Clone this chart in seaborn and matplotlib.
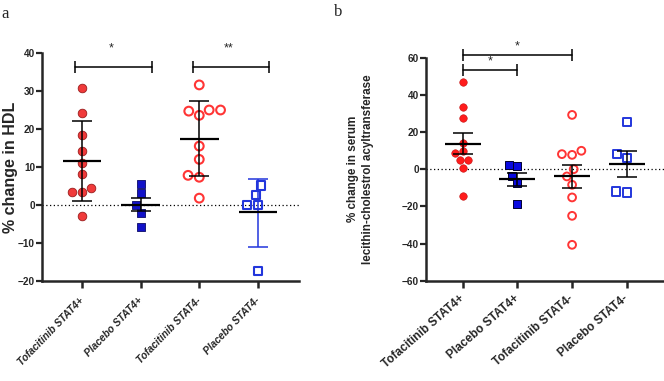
import matplotlib.pyplot as plt
import seaborn as sns

# groups on the x axis (same for both panels)
groups = ['Tofacitinib STAT4+', 'Placebo STAT4+', 'Tofacitinib STAT4-', 'Placebo STAT4-']

# panel a: % change in HDL
hdl_tofa_pos = [30.7, 24.2, 18.3, 14.2, 11.1, 8.2, 4.4, 3.3, 3.3, -2.9]
hdl_plac_pos = [5.5, 3.1, 0.0, -2.0, -5.9]
hdl_tofa_neg = [31.6, 25.0, 24.7, 25.0, 23.6, 15.5, 12.0, 7.8, 7.3, 1.8]
hdl_plac_neg = [5.1, 2.7, 0.0, 0.0, -17.4]
hdl_mean = [11.5, 0.1, 17.4, -1.9]
hdl_err_lo = [1.1, -1.7, 7.5, -11.0]
hdl_err_hi = [22.0, 1.9, 27.3, 6.8]
hdl_sig = [(0, 1, 36.3, '*'), (2, 3, 36.3, '**')]

# panel b: % change in serum LCAT
lcat_tofa_pos = [46.8, 33.7, 27.6, 14.3, 9.9, 8.6, 5.0, 5.0, 0.9, -14.3]
lcat_plac_pos = [2.3, 1.8, -3.6, -7.2, -18.8]
lcat_tofa_neg = [29.2, 9.9, 8.1, 7.7, 0.0, -3.9, -8.4, -15.2, -25.1, -40.7]
lcat_plac_neg = [25.3, 8.2, 6.1, -12.0, -12.5]
lcat_mean = [13.8, -5.3, -3.9, 2.9]
lcat_err_lo = [8.2, -9.0, -10.2, -4.3]
lcat_err_hi = [19.4, -1.8, 2.3, 10.0]
lcat_sig = [(0, 2, 61.5, '*'), (0, 1, 53.4, '*')]

sns.set_style('ticks')
plt.rcParams['font.family'] = ['Liberation Sans', 'DejaVu Sans']
plt.rcParams['font.weight'] = 'bold'

RED = '#f03a3a'
BLUE = '#1212c8'
RED_OPEN = '#ff3535'
BLUE_OPEN = '#2236dc'


def draw_panel(ax, series, styles, mean, lo, hi, bar_colors, sig, sig_dy, br_pad):
    # points: one swarm per group, kept in the fixed group order
    for i, (vals, st) in enumerate(zip(series, styles)):
        marker, face, edge, lw, size = st
        n_before = len(ax.collections)
        sns.swarmplot(x=[groups[i]] * len(vals), y=vals, order=groups, ax=ax,
                      marker=marker, size=size, color=edge, edgecolor=edge,
                      linewidth=lw, zorder=2)
        # swarmplot adds an (empty) collection for every level, so recolour all new ones
        for pts in ax.collections[n_before:]:
            pts.set_facecolor(face)
            pts.set_edgecolor(edge)

    # mean line + error bars
    for i in range(len(groups)):
        ax.errorbar(i, mean[i], yerr=[[mean[i] - lo[i]], [hi[i] - mean[i]]],
                    fmt='none', ecolor=bar_colors[i], elinewidth=1.1,
                    capsize=7, capthick=1.1, zorder=3)
        ax.hlines(mean[i], i - 0.33, i + 0.33, color='black', lw=1.6, zorder=3)

    ax.axhline(0, color='black', ls=(0, (1, 2)), lw=0.9, zorder=1)

    # significance brackets
    for x0, x1, y, txt in sig:
        ax.plot([x0 - br_pad[0], x1 + br_pad[1]], [y, y], color='black', lw=1.1,
                marker='|', markersize=8, markeredgewidth=1.1, zorder=3,
                clip_on=False)
        ax.text((x0 + x1) / 2, y + sig_dy, txt, ha='center', va='center',
                fontsize=9, fontweight='normal')

    sns.despine(ax=ax)
    for sp in ['left', 'bottom']:
        ax.spines[sp].set_linewidth(1.8)
    ax.tick_params(axis='y', width=1.6, length=4, pad=1, labelsize=7.2)
    ax.tick_params(axis='x', width=1.8, length=5, pad=3)
    ax.set_xlabel('')


fig = plt.figure(figsize=(6.64, 3.81), dpi=100)
ax_a = fig.add_axes([0.0633, 0.2625, 0.387, 0.5984])
ax_b = fig.add_axes([0.6416, 0.2633, 0.3584, 0.5853])

draw_panel(ax_a,
           [hdl_tofa_pos, hdl_plac_pos, hdl_tofa_neg, hdl_plac_neg],
           [('o', RED, '#9a1c1c', 0.6, 6.2),
            ('s', BLUE, '#0a0a66', 0.6, 5.8),
            ('o', 'none', RED_OPEN, 1.5, 6.3),
            ('s', 'none', BLUE_OPEN, 1.5, 6.0)],
           hdl_mean, hdl_err_lo, hdl_err_hi,
           ['black', 'black', 'black', BLUE_OPEN],
           hdl_sig, 5.0, (0.11, 0.19))
ax_a.set_ylim(-20, 40)
ax_a.set_yticks(range(-20, 41, 10))
ax_a.set_xlim(-0.68, 3.70)
ax_a.set_ylabel('% change in HDL', fontsize=11.5, fontweight='bold')
ax_a.yaxis.set_label_coords(-0.095, 0.5)
ax_a.set_xticks(range(4))
ax_a.set_xticklabels(groups, rotation=46, ha='right', va='center',
                     rotation_mode='anchor', fontsize=7.3, fontstyle='italic',
                     fontweight='bold')
ax_a.tick_params(axis='x', pad=8)

draw_panel(ax_b,
           [lcat_tofa_pos, lcat_plac_pos, lcat_tofa_neg, lcat_plac_neg],
           [('o', '#ff1c1c', '#c01010', 0.4, 5.4),
            ('s', '#0a0ae0', '#000030', 0.7, 5.4),
            ('o', 'none', RED_OPEN, 1.4, 5.6),
            ('s', 'none', BLUE_OPEN, 1.4, 6.0)],
           lcat_mean, lcat_err_lo, lcat_err_hi,
           ['black'] * 4,
           lcat_sig, 4.5, (0.0, 0.0))
ax_b.set_ylim(-60, 60)
ax_b.set_yticks(range(-60, 61, 20))
ax_b.set_xlim(-0.67, 3.68)
ax_b.set_ylabel('% change in serum\nlecithin-cholestrol acyltransferase',
                fontsize=8.4, fontweight='bold', labelpad=20, linespacing=1.3)
ax_b.set_xticks(range(4))
ax_b.set_xticklabels(groups, rotation=41, ha='right', va='center',
                     rotation_mode='anchor', fontsize=8.5, fontweight='bold')
ax_b.tick_params(axis='x', pad=7)

fig.text(0.002, 0.985, 'a', family='Liberation Serif', fontsize=12,
         fontweight='normal', va='top')
fig.text(0.503, 0.99, 'b', family='Liberation Serif', fontsize=12,
         fontweight='normal', va='top')

fig.savefig('out.png', dpi=100)
